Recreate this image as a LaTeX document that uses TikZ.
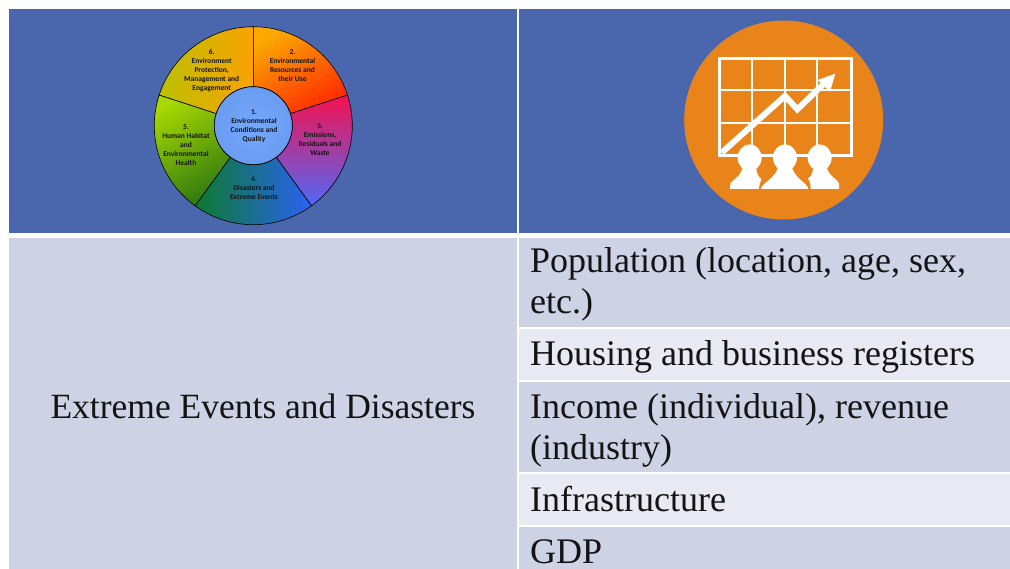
\documentclass[tikz,border=0pt]{standalone}
\usepackage{fontspec}
\setmainfont{Liberation Serif}
\newfontfamily\wheelfont{Carlito}[BoldFont=Carlito Bold]
\definecolor{hdr}{HTML}{4A66AC}
\definecolor{rowa}{HTML}{CDD2E4}
\definecolor{rowb}{HTML}{E8E9F2}
\definecolor{icon}{HTML}{E9841A}
\definecolor{s2a}{HTML}{FBA800}
\definecolor{s2b}{HTML}{FF2A00}
\definecolor{s3a}{HTML}{F5124E}
\definecolor{s3m}{HTML}{B848C0}
\definecolor{s3b}{HTML}{4F68F8}
\definecolor{s4a}{HTML}{0C7A2E}
\definecolor{s4m}{HTML}{1F7F95}
\definecolor{s4b}{HTML}{2A62F5}
\definecolor{s5a}{HTML}{A8D800}
\definecolor{s5b}{HTML}{2F7A10}
\definecolor{s6a}{HTML}{BCC000}
\definecolor{s6b}{HTML}{FAA200}
\definecolor{hub}{HTML}{74A8FF}
\definecolor{hubo}{HTML}{6A9CF0}
\tikzset{
  x=1pt,y=-1pt,
  cell/.style={anchor=base west,inner sep=0pt,font=\fontsize{36}{41}\selectfont,text=black!92},
  wheeltext/.style={align=center,inner sep=0pt,text=black!92,font=\wheelfont\bfseries\fontsize{7.5}{9}\selectfont},
  sector/.style={draw=black,line width=0.6pt},
  gridline/.style={draw=white,line width=1.8pt},
  person/.style={fill=white,draw=none}
}
\begin{document}
\begin{tikzpicture}
\useasboundingbox (0,0) rectangle (1010,569);
\fill[white] (0,0) rectangle (1010,569);
% table cells
\fill[hdr] (9,9) rectangle (516.5,233);
\fill[hdr] (518.5,9) rectangle (1010,233);
\fill[rowa] (9,238) rectangle (516.5,569);
\fill[rowa] (518.5,238) rectangle (1010,327);
\fill[rowb] (518.5,329) rectangle (1010,380);
\fill[rowa] (518.5,382) rectangle (1010,472);
\fill[rowb] (518.5,474) rectangle (1010,525);
\fill[rowa] (518.5,527) rectangle (1010,569);
% wheel
\begin{scope}[shift={(253.3,125.7)},x=1pt,y=1pt]
  \shade[sector,left color=s6a,right color=s6b]
    (90:39) -- (90:99) arc[start angle=90,end angle=162,radius=99] -- (162:39) arc[start angle=162,end angle=90,radius=39] -- cycle;
  \shade[sector,left color=s2a,right color=s2b,shading angle=30]
    (90:39) -- (90:99) arc[start angle=90,end angle=18,radius=99] -- (18:39) arc[start angle=18,end angle=90,radius=39] -- cycle;
  \shade[sector,top color=s3a,middle color=s3m,bottom color=s3b]
    (18:39) -- (18:99) arc[start angle=18,end angle=-54,radius=99] -- (-54:39) arc[start angle=-54,end angle=18,radius=39] -- cycle;
  \shade[sector,left color=s4a,middle color=s4m,right color=s4b]
    (-54:39) -- (-54:99) arc[start angle=-54,end angle=-126,radius=99] -- (-126:39) arc[start angle=-126,end angle=-54,radius=39] -- cycle;
  \shade[sector,left color=s5a,right color=s5b,shading angle=30]
    (234:39) -- (234:99) arc[start angle=234,end angle=162,radius=99] -- (162:39) arc[start angle=162,end angle=234,radius=39] -- cycle;
  \shade[draw=black,line width=0.7pt,inner color=hub,outer color=hubo] (0,0) circle[radius=39];
\end{scope}
\node[wheeltext] (w1) at (254,126) {1.\\Environmental\\Conditions and\\Quality};
\node[wheeltext] (w2) at (292.5,66) {2.\\Environmental\\Resources and\\their Use};
\node[wheeltext] (w3) at (320,140) {3.\\Emissions,\\Residuals and\\Waste};
\node[wheeltext] (w4) at (254,188.5) {4.\\Disasters and\\Extreme Events};
\node[wheeltext] (w5) at (186,144.7) {5.\\Human Habitat\\and\\Environmental\\Health};
\node[wheeltext] (w6) at (211.7,70.7) {6.\\Environment\\Protection,\\Management and\\Engagement};
% icon, in 3x crop coordinates
\fill[icon] (783.7,120) circle[radius=99.5];
\begin{scope}[shift={(680,15)},x=1pt/3,y=-1pt/3]
  \draw[gridline,line width=2.4pt] (118,130) rectangle (515,422);
  \foreach \gx in {215,315,412} \draw[gridline] (\gx,130) -- (\gx,422);
  \foreach \gy in {225,325} \draw[gridline] (118,\gy) -- (515,\gy);
  \draw[white,line width=6pt,line join=miter] (125,413) -- (315,243) -- (352,283) -- (430,208);
  \fill[white] (466,176) -- (413,195) -- (450,230) -- cycle;
  \fill[person] (209,428) ellipse[x radius=36,y radius=40];
  \fill[person] (315,428) ellipse[x radius=36,y radius=40];
  \fill[person] (419,428) ellipse[x radius=36,y radius=40];
  \fill[person] (150,522) -- (151,505) .. controls (160,492) and (182,488) .. (190,450) -- (228,450) .. controls (228,472) and (235,486) .. (244,493) .. controls (240,503) and (238,513) .. (236,522) -- cycle;
  \fill[person] (243,522) .. controls (246,502) and (288,492) .. (296,450) -- (334,450) .. controls (342,492) and (382,502) .. (385,522) -- cycle;
  \fill[person] (392,522) .. controls (392,510) and (390,500) .. (384,490) .. controls (394,486) and (400,470) .. (400,450) -- (438,450) .. controls (445,485) and (470,490) .. (477,505) -- (477,522) -- cycle;
\end{scope}
% texts
\node[anchor=base,inner sep=0pt,font=\fontsize{35.5}{41}\selectfont,text=black!92] (left) at (263,418) {Extreme Events and Disasters};
\node[cell] (r1a) at (530,273) {Population (location, age, sex,};
\node[cell] (r1b) at (530,314) {etc.)};
\node[cell] (r2) at (530,366) {Housing and business registers};
\node[cell] (r3a) at (530,418) {Income (individual), revenue};
\node[cell] (r3b) at (530,459) {(industry)};
\node[cell] (r4) at (530,511) {Infrastructure};
\node[cell] (r5) at (530,563) {GDP};
\end{tikzpicture}
\end{document}
